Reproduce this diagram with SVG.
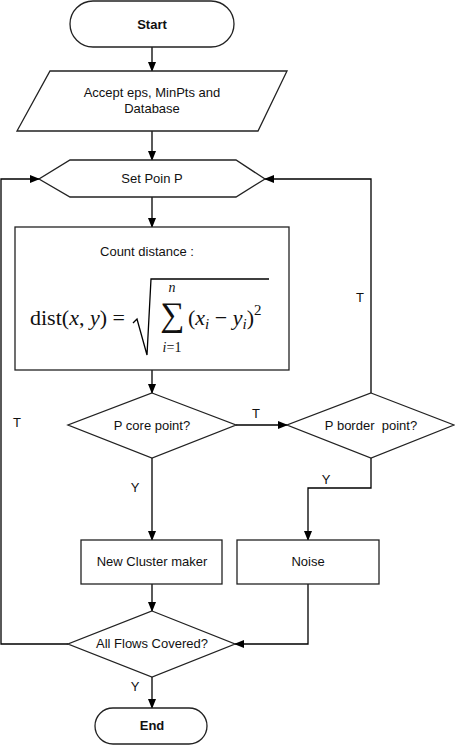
<svg xmlns="http://www.w3.org/2000/svg" width="455" height="745" viewBox="0 0 455 745">
<defs>
<marker id="ah" markerWidth="10" markerHeight="8" refX="9" refY="4" orient="auto" markerUnits="userSpaceOnUse">
<path d="M0,0 L10,4 L0,8 Z" fill="#000"/>
</marker>
<style>
.sh{fill:#fff;stroke:#222;stroke-width:1.3}
.t{font-family:"Liberation Sans",Arial,sans-serif;font-size:13px;fill:#111;text-anchor:middle}
.b{font-weight:bold}
.c{fill:none;stroke:#000;stroke-width:1.3;marker-end:url(#ah)}
.l{fill:none;stroke:#000;stroke-width:1.3}
.m{font-family:"Liberation Serif","Times New Roman",serif;fill:#111}
.mi{font-style:italic}
</style>
</defs>
<rect width="455" height="745" fill="#fff"/>
<g id="connectors">
<path class="c" d="M152,47 V71"/>
<path class="c" d="M152,131 V160"/>
<path class="c" d="M152,197 V227"/>
<path class="c" d="M152,370 V393"/>
<path class="c" d="M236,425 H287"/>
<path class="c" d="M371,393 V179 H265"/>
<path class="c" d="M68,644 H1 V179 H39"/>
<path class="c" d="M152,458 V540"/>
<path class="c" d="M371,458 V488 H308 V540"/>
<path class="c" d="M152,584 V611"/>
<path class="c" d="M308,584 V644 H235"/>
<path class="c" d="M152,677 V708"/>
<text class="t" x="256" y="418">T</text>
<text class="t" x="360" y="302">T</text>
<text class="t" x="17" y="427">T</text>
<text class="t" x="135" y="492">Y</text>
<text class="t" x="326" y="484">Y</text>
<text class="t" x="135" y="691">Y</text>
</g>
<g id="start">
<rect class="sh" x="70" y="1" width="164" height="46" rx="23" ry="23"/>
<text class="t b" x="152" y="29">Start</text>
</g>
<g id="input">
<polygon class="sh" points="50,71 287,71 258,131 17,131"/>
<text class="t" x="152" y="97">Accept eps, MinPts and</text>
<text class="t" x="152" y="113">Database</text>
</g>
<g id="setpoint">
<polygon class="sh" points="70,160 236,160 265,179 236,197 70,197 39,179"/>
<text class="t" x="152" y="183">Set Poin P</text>
</g>
<g id="distance">
<rect class="sh" x="15" y="227" width="274" height="143"/>
<text class="t" x="147" y="256">Count distance :</text>
<text class="m" x="30" y="325" font-size="22">dist(<tspan class="mi">x</tspan>, <tspan class="mi">y</tspan>) =</text>
<path class="l" d="M133,323 L137,319 L147,355 L151,279 H269" stroke-width="1.2"/>
<text class="m mi" x="172" y="292" font-size="14" text-anchor="middle">n</text>
<text class="m" x="172" y="326" font-size="34" text-anchor="middle">∑</text>
<text class="m" x="172" y="352" font-size="14" text-anchor="middle"><tspan class="mi">i</tspan>=1</text>
<text class="m" x="188" y="325" font-size="22">(<tspan class="mi">x</tspan><tspan class="mi" font-size="15" dy="4">i</tspan><tspan dy="-4"> − </tspan><tspan class="mi">y</tspan><tspan class="mi" font-size="15" dy="4">i</tspan><tspan dy="-4">)</tspan><tspan font-size="15" dy="-10">2</tspan></text>
</g>
<g id="core">
<polygon class="sh" points="152,393 236,425 152,458 68,425"/>
<text class="t" x="152" y="430">P core point?</text>
</g>
<g id="border">
<polygon class="sh" points="371,393 454,425 371,458 287,425"/>
<text class="t" x="371" y="430" xml:space="preserve">P border  point?</text>
</g>
<g id="cluster">
<rect class="sh" x="81" y="540" width="141" height="44"/>
<text class="t" x="152" y="566">New Cluster maker</text>
</g>
<g id="noise">
<rect class="sh" x="237" y="540" width="142" height="44"/>
<text class="t" x="308" y="566">Noise</text>
</g>
<g id="allflows">
<polygon class="sh" points="152,611 235,644 152,677 68,644"/>
<text class="t" x="152" y="648">All Flows Covered?</text>
</g>
<g id="end">
<rect class="sh" x="95" y="708" width="112" height="36" rx="18" ry="18"/>
<text class="t b" x="152" y="730">End</text>
</g>
</svg>
